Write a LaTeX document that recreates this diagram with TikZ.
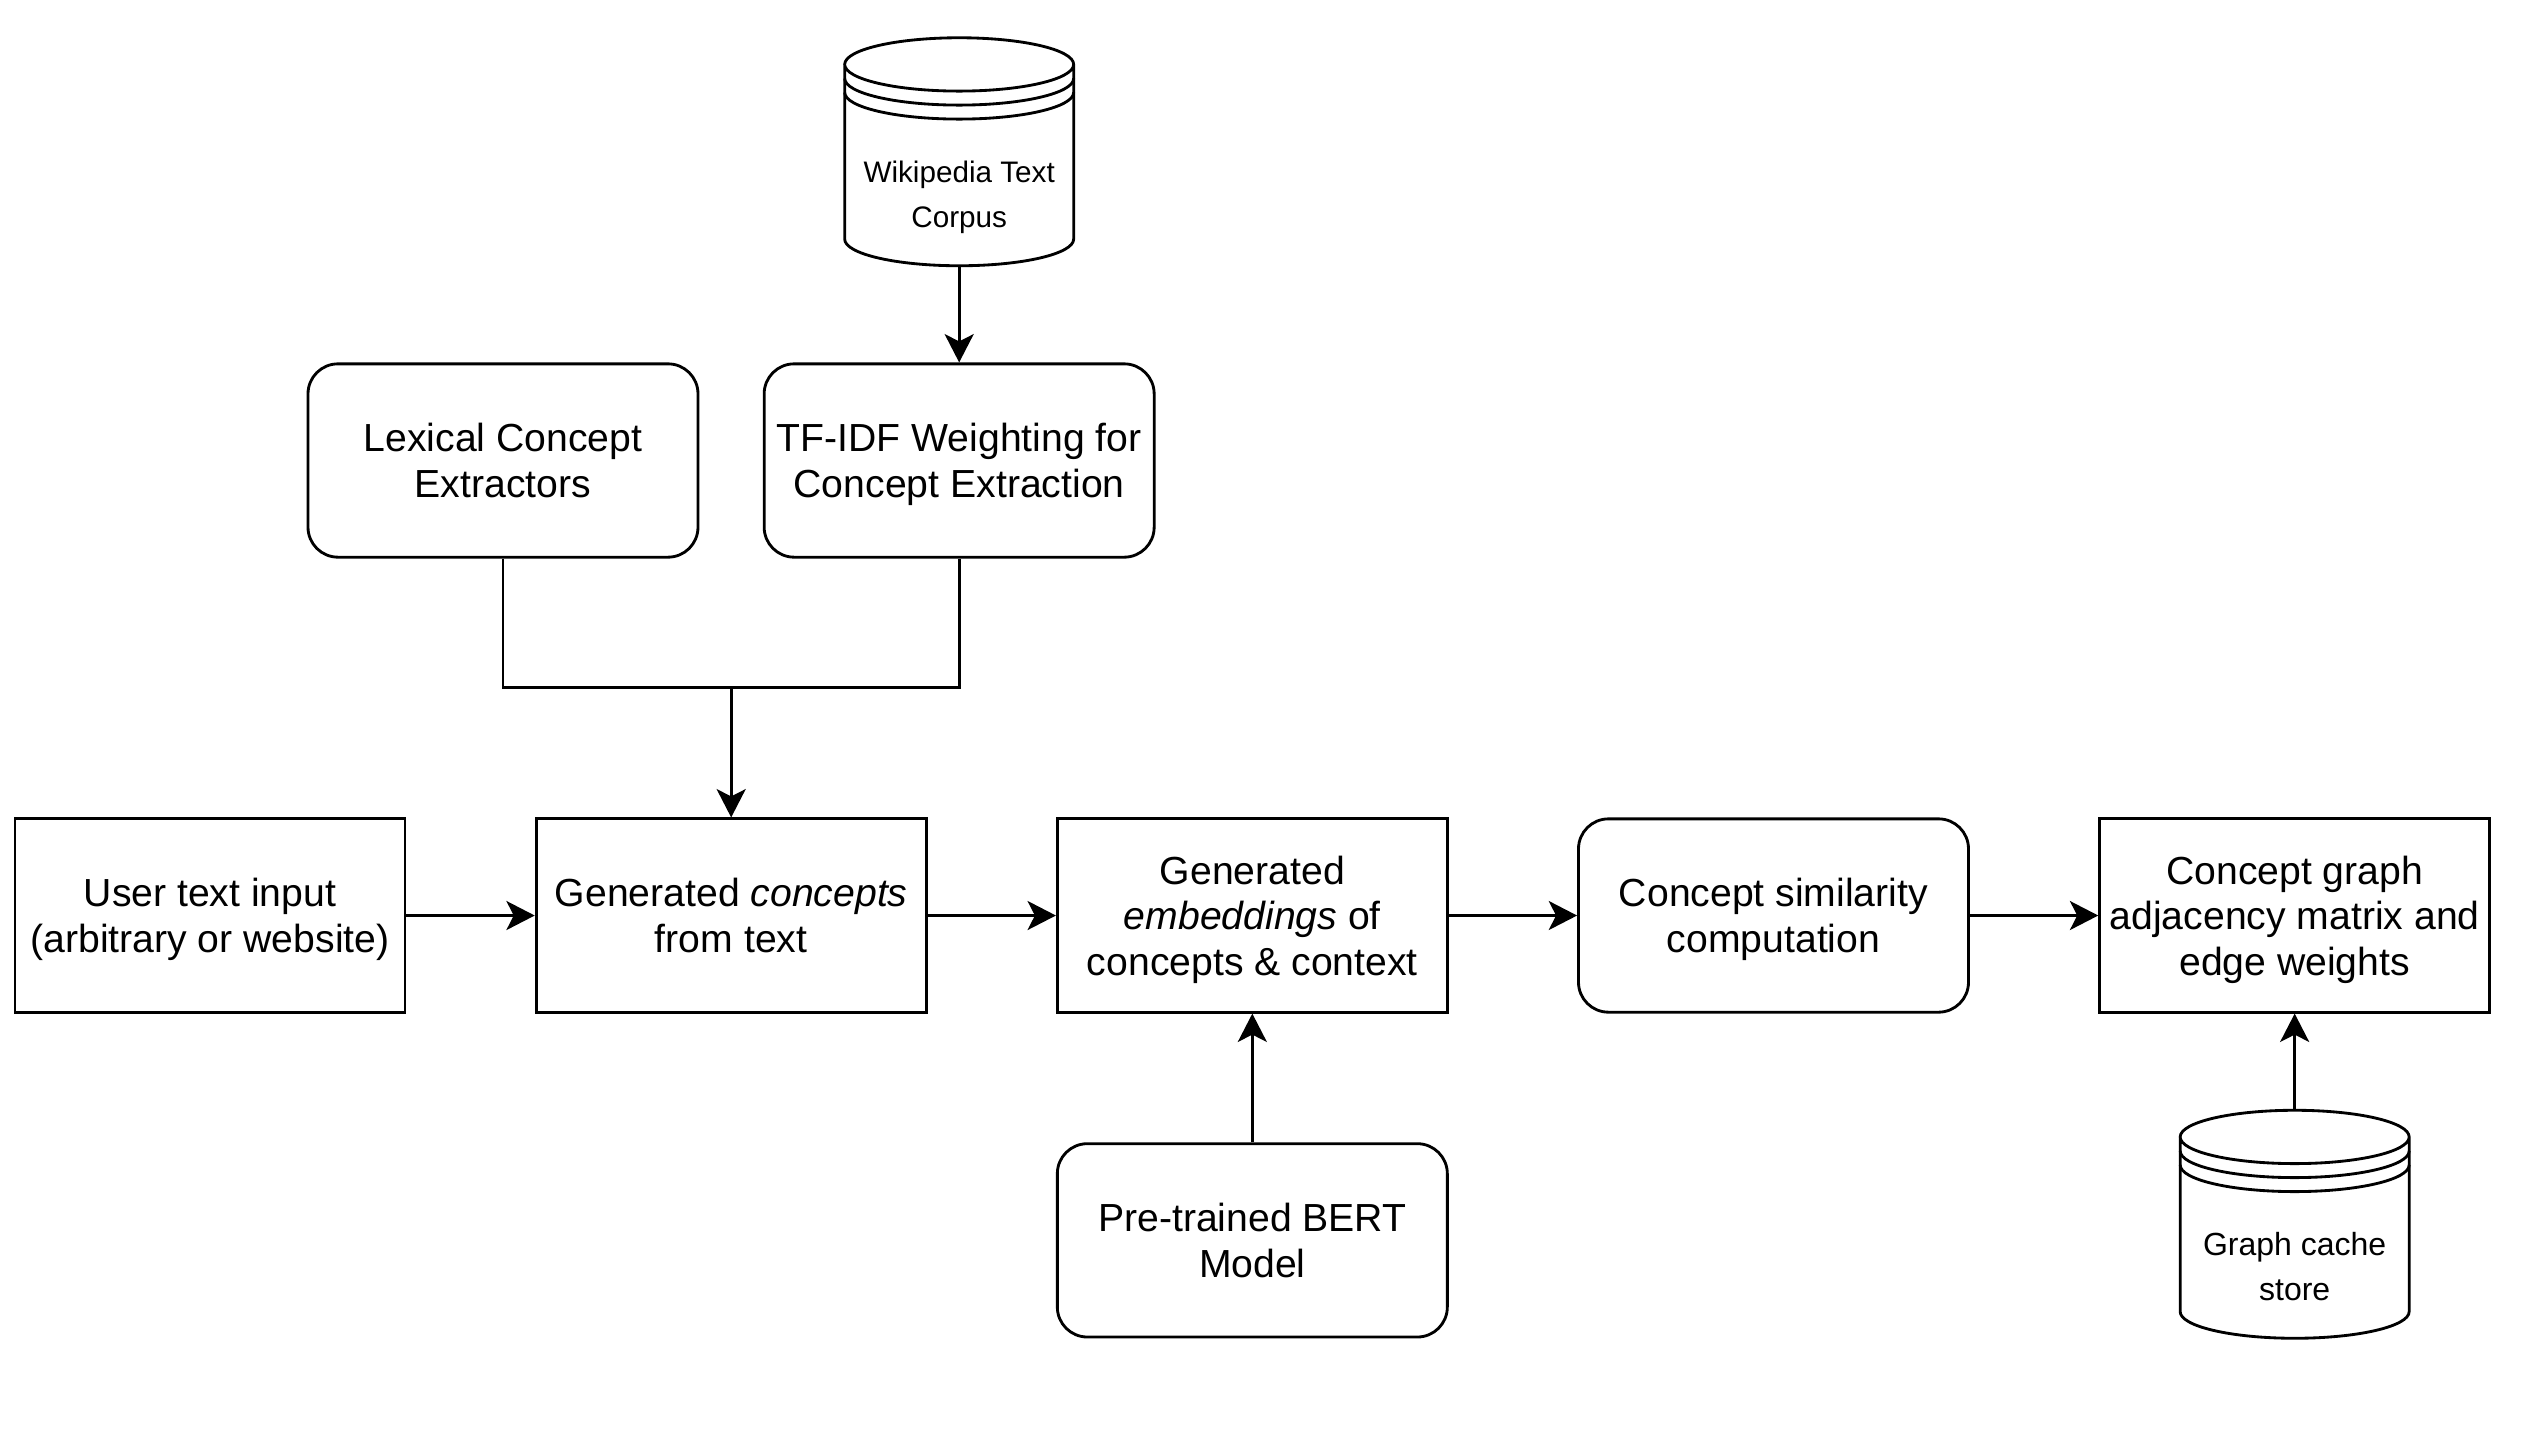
\documentclass[tikz,border=0pt]{standalone}
\usepackage{fontspec}
\setmainfont{Liberation Sans}
\usetikzlibrary{positioning}
\usetikzlibrary{arrows.meta}

\newcommand{\storeoutline}[1]{%
	\draw[storeline] ([yshift=-8pt]#1.north west) -- ([yshift=8pt]#1.south west)
	arc[start angle=180,end angle=360,x radius=34.35pt,y radius=8pt]
	-- ([yshift=-8pt]#1.north east)
	arc[start angle=0,end angle=360,x radius=34.35pt,y radius=8pt];
	\draw[storeline] ([yshift=-12.2pt]#1.north west)
	arc[start angle=180,end angle=360,x radius=34.35pt,y radius=8pt];
	\draw[storeline] ([yshift=-16.4pt]#1.north west)
	arc[start angle=180,end angle=360,x radius=34.35pt,y radius=8pt];
}

\begin{document}
\begin{tikzpicture}[x=0.3pt,y=-0.3pt,->,>={Stealth[length=8.5pt,width=8.7pt,inset=2.2pt]},
		line width=0.85pt,node distance=38.5pt]
		\tikzset{box/.style={draw,rectangle,minimum width=117pt,minimum height=58pt,align=center,
				inner sep=2pt,text depth=0pt,font=\fontsize{11.75pt}{13.7pt}\selectfont},
			rbox/.style={box,rounded corners=9pt},
			store/.style={rectangle,minimum width=68.7pt,minimum height=68.4pt,inner sep=0pt,outer sep=0pt},
			storetext/.style={align=center,font=\fontsize{8.9pt}{13.5pt}\selectfont},
			storeline/.style={-}}
		
		\useasboundingbox (0,0) rectangle (2522,1444);
		
		\node[box]   (user)                         at (210,915.5) {User text input\\(arbitrary or website)};
		\node[box]   (concepts) [right=of user]     {Generated \textit{concepts}\\from text};
		\node[box]   (emb)      [right=of concepts] {Generated\\\textit{embeddings} of\\concepts \& context};
		\node[rbox]  (sim)      [right=of emb]      {Concept similarity\\computation};
		\node[box]   (graph)    [right=of sim]      {Concept graph\\adjacency matrix and\\edge weights};
		\node[rbox]  (lex)                          at (503,460.5) {Lexical Concept\\Extractors};
		\node[rbox]  (tfidf)    [right=19pt of lex] {TF-IDF Weighting for\\Concept Extraction};
		\node[rbox]  (bert)     [below=38.6pt of emb] {Pre-trained BERT\\Model};
		\node[store] (wiki)     [above=29pt of tfidf,
		label={[storetext,yshift=-13.6pt]center:{Wikipedia Text\\Corpus}}] {};
		\node[store] (cache)    [below=29pt of graph,
		label={[storetext,yshift=-12.8pt,font=\fontsize{9.6pt}{13.5pt}\selectfont]center:{Graph cache\\store}}] {};
		
		\storeoutline{wiki}
		\storeoutline{cache}
		
		\path (concepts.north) ++(0,-130) coordinate (join);
		
		\path (user)  edge (concepts)
		(concepts) edge (emb)
		(emb)      edge (sim)
		(sim)      edge (graph)
		(bert)     edge (emb)
		(cache)    edge (graph)
		(wiki)     edge (tfidf)
		(join)     edge (concepts.north);
		\draw[-] (lex.south) |- (join) -| (tfidf.south);
		
\end{tikzpicture}
\end{document}
